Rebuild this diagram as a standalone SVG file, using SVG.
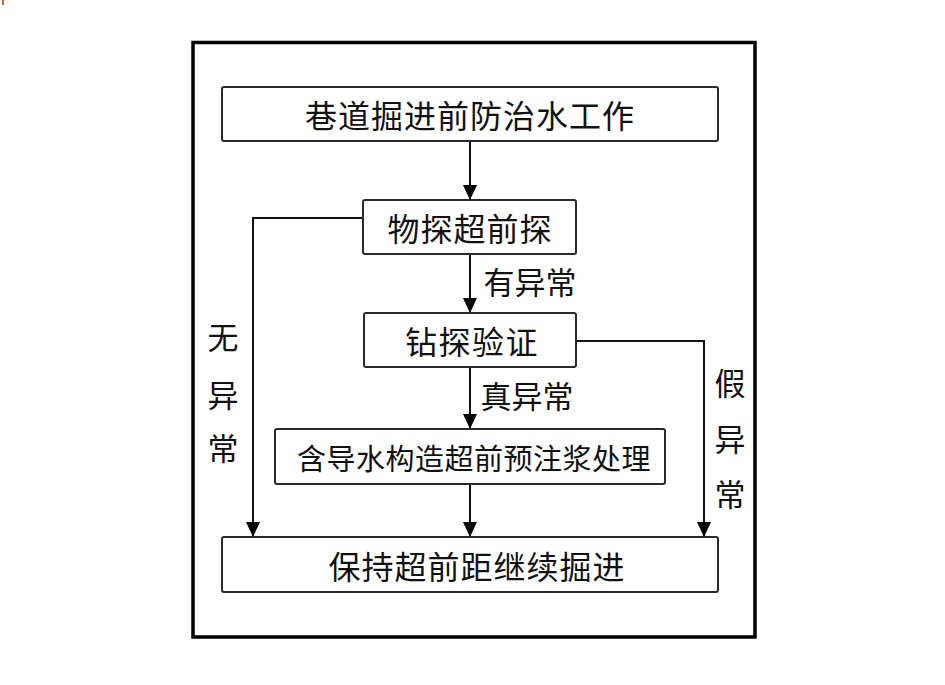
<svg xmlns="http://www.w3.org/2000/svg" width="945" height="685" viewBox="0 0 945 685">
<defs>
<style>
.box{fill:#fff;stroke:#2a2a2a;stroke-width:2}
.t{font-family:"Noto Sans CJK SC","Noto Sans CJK JP",sans-serif;fill:#111;text-anchor:middle;dominant-baseline:central;font-weight:400}
.conn{fill:none;stroke:#111;stroke-width:2}
</style>
<marker id="ah" markerUnits="userSpaceOnUse" markerWidth="15" markerHeight="14" refX="15" refY="7" orient="auto">
<path d="M0,0 L15,7 L0,14 z" fill="#000"/>
</marker>
</defs>
<rect x="0" y="0" width="945" height="685" fill="#fff"/>
<rect x="2" y="0" width="2" height="5" fill="#c8623c"/>
<rect id="frame" x="193" y="42.5" width="562" height="594.5" fill="none" stroke="#000" stroke-width="3.5"/>
<g id="connectors">
<path class="conn" d="M470,141 V200" marker-end="url(#ah)"/>
<path class="conn" d="M470,254 V313" marker-end="url(#ah)"/>
<path class="conn" d="M470,367 V429" marker-end="url(#ah)"/>
<path class="conn" d="M470,484 V537" marker-end="url(#ah)"/>
<path class="conn" d="M363,218 H253 V537" marker-end="url(#ah)"/>
<path class="conn" d="M576,341 H704 V537" marker-end="url(#ah)"/>
</g>
<g id="n1"><rect class="box" x="222" y="87" width="496" height="54" rx="2"/><text class="t" x="470" y="114" font-size="32" letter-spacing="1">巷道掘进前防治水工作</text></g>
<g id="n2"><rect class="box" x="363" y="200" width="213" height="54" rx="2"/><text class="t" x="470" y="227" font-size="32" letter-spacing="1">物探超前探</text></g>
<g id="n3"><rect class="box" x="364" y="313" width="212" height="54" rx="2"/><text class="t" x="472" y="340" font-size="32" letter-spacing="1.5">钻探验证</text></g>
<g id="n4"><rect class="box" x="275" y="429" width="390" height="55" rx="2"/><text class="t" x="474" y="456.5" font-size="29" letter-spacing="0.5">含导水构造超前预注浆处理</text></g>
<g id="n5"><rect class="box" x="222" y="537" width="496" height="55" rx="2"/><text class="t" x="477" y="564.5" font-size="32" letter-spacing="1">保持超前距继续掘进</text></g>
<g id="labels">
<text class="t" x="530" y="280" font-size="31">有异常</text>
<text class="t" x="527" y="394" font-size="31">真异常</text>
<text class="t" x="223" y="335" font-size="31">无</text>
<text class="t" x="223" y="393" font-size="31">异</text>
<text class="t" x="223" y="446" font-size="31">常</text>
<text class="t" x="730" y="381.5" font-size="31">假</text>
<text class="t" x="730" y="437.5" font-size="31">异</text>
<text class="t" x="730" y="492" font-size="31">常</text>
</g>
</svg>
